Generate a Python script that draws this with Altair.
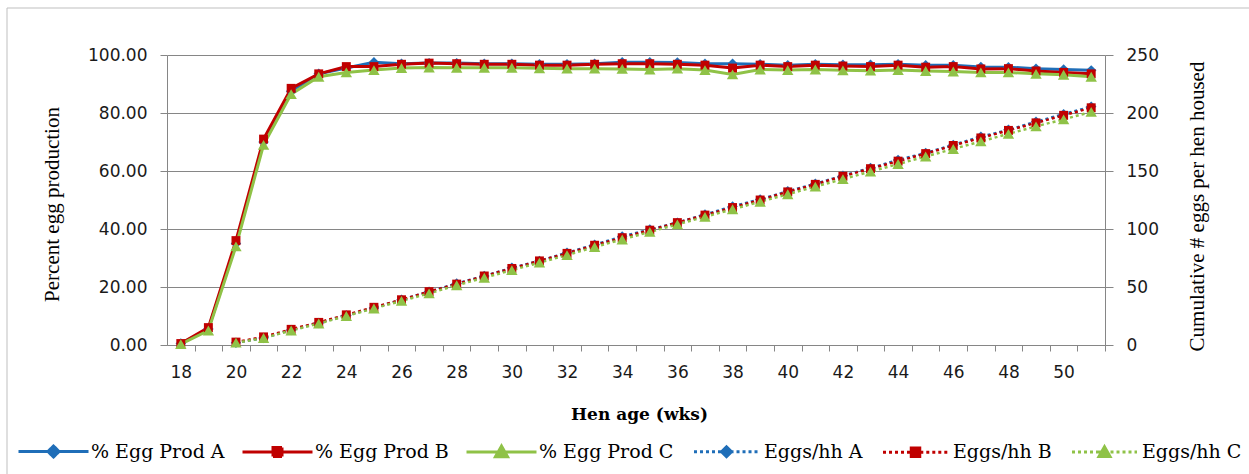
import altair as alt
import pandas as pd

# ---------------- data ----------------
weeks = list(range(18, 52))
pct_a = [0.5, 5.5, 35.0, 70.0, 87.5, 93.5, 95.5, 97.5, 97.0, 97.2, 97.2, 97.0, 97.0, 96.8, 96.8, 97.0, 97.5,
         97.5, 97.4, 97.0, 97.0, 96.8, 96.5, 96.8, 96.6, 96.6, 96.8, 96.5, 96.5, 95.9, 95.8, 95.3, 95.0, 94.7]
pct_b = [0.5, 6.0, 36.0, 71.0, 88.5, 93.5, 96.0, 96.0, 96.8, 97.2, 97.0, 96.8, 96.8, 96.5, 96.5, 96.8, 97.0,
         97.0, 96.8, 96.5, 95.5, 96.5, 96.0, 96.5, 96.2, 96.0, 96.5, 95.8, 96.0, 95.2, 95.3, 94.5, 94.0, 93.5]
pct_c = [0.3, 5.0, 34.0, 69.0, 86.5, 92.5, 94.0, 94.8, 95.5, 95.7, 95.6, 95.6, 95.6, 95.4, 95.3, 95.3, 95.2,
         95.0, 95.3, 94.8, 93.3, 95.0, 94.8, 95.0, 94.7, 94.6, 94.8, 94.5, 94.3, 94.0, 94.0, 93.5, 93.2, 92.5]

egg_weeks = list(range(20, 52))
egg_a = [2.0, 6.0, 13.0, 19.0, 25.5, 32.0, 39.0, 46.0, 53.0, 59.5, 66.5, 72.5, 79.5, 86.5, 93.5, 99.5,
         105.5, 112.5, 119.5, 125.5, 132.5, 139.0, 146.0, 152.5, 159.5, 165.5, 172.5, 179.5, 185.5, 192.5, 199.0, 205.5]
egg_b = [2.5, 7.0, 13.5, 19.5, 26.0, 32.5, 39.0, 46.0, 52.5, 59.5, 66.0, 72.5, 79.0, 86.0, 92.5, 99.0,
         105.5, 112.0, 118.5, 125.0, 132.0, 138.5, 145.5, 152.0, 158.5, 165.0, 172.0, 178.5, 185.0, 191.5, 198.0, 204.5]
egg_c = [2.0, 6.0, 12.5, 18.5, 25.0, 31.5, 38.0, 44.5, 51.5, 58.0, 64.5, 71.0, 77.5, 84.5, 91.0, 97.5,
         104.0, 110.5, 117.0, 123.5, 130.0, 136.5, 143.0, 149.5, 156.0, 162.5, 169.0, 175.5, 182.0, 188.5, 194.5, 201.0]

letters = ["A", "B", "C"]
names_pct = ["% Egg Prod A", "% Egg Prod B", "% Egg Prod C"]
names_egg = ["Eggs/hh A", "Eggs/hh B", "Eggs/hh C"]
all_names = names_pct + names_egg
base_colors = ["#1F6EB8", "#C00000", "#8FC247"]
colors = base_colors + base_colors
left_ticks = [0, 20, 40, 60, 80, 100]
right_ticks = [0, 50, 100, 150, 200, 250]

rows = []
for name, let, vals in zip(names_pct, letters, [pct_a, pct_b, pct_c]):
    for w, v in zip(weeks, vals):
        rows.append({"week": w, "series": name, "letter": let, "value": v, "kind": "pct"})
for name, let, vals in zip(names_egg, letters, [egg_a, egg_b, egg_c]):
    for w, v in zip(egg_weeks, vals):
        rows.append({"week": w, "series": name, "letter": let, "value": v, "kind": "egg"})
df = pd.DataFrame(rows)

# ---------------- styling ----------------
GREY = "#868686"
TXT = "#1a1a1a"
W, H = 938, 290
half_band = W / 34 / 2

color_enc = alt.Color("letter:N", scale=alt.Scale(domain=letters, range=base_colors), legend=None)

x_enc = alt.X(
    "week:Q",
    scale=alt.Scale(domain=[17.5, 51.5], nice=False, zero=False),
    axis=alt.Axis(
        values=weeks, tickOffset=half_band, labelOffset=-half_band,
        labelExpr="datum.value % 2 == 0 ? datum.label : ''",
        labelFlush=False, labelOverlap=False, grid=False,
        tickSize=6, tickColor=GREY, domainColor=GREY, labelPadding=13,
        labelFont="DejaVu Sans", labelFontSize=17, labelColor=TXT,
        title="Hen age (wks)", titleFont="DejaVu Serif", titleFontSize=17,
        titleFontWeight="bold", titleColor="black", titleX=472, titleY=69,
        titleAlign="center", titleBaseline="middle",
    ),
)

y_left = alt.Y(
    "value:Q",
    scale=alt.Scale(domain=[0, 100], nice=False, zero=True),
    axis=alt.Axis(
        orient="left", values=left_ticks, format=".2f", grid=True, gridColor=GREY,
        tickSize=7, tickColor=GREY, domainColor=GREY, labelPadding=13,
        labelFont="DejaVu Sans", labelFontSize=17, labelColor=TXT,
        title="Percent egg production", titleFont="Liberation Serif", titleFontSize=21,
        titleFontWeight="normal", titleColor="black", titleAngle=270,
        titleX=-115, titleY=149, titleAlign="center", titleBaseline="middle",
    ),
)

y_right = alt.Y(
    "value:Q",
    scale=alt.Scale(domain=[0, 250], nice=False, zero=True),
    axis=alt.Axis(
        orient="right", values=right_ticks, format="d", grid=False,
        tickSize=8, tickColor=GREY, domainColor=GREY, labelPadding=13,
        labelFont="DejaVu Sans", labelFontSize=17, labelColor=TXT,
        title="Cumulative # eggs per hen housed", titleFont="Liberation Serif", titleFontSize=21,
        titleFontWeight="normal", titleColor="black", titleAngle=270,
        titleX=92, titleY=151, titleAlign="center", titleBaseline="middle",
    ),
)

shapes = ["diamond", "square", "triangle-up"]
sizes = [110, 80, 130]

pct_base = alt.Chart(df).transform_filter("datum.kind == 'pct'")
pct_line = pct_base.mark_line(strokeWidth=3).encode(
    x=x_enc, y=y_left, color=color_enc, detail="series:N")
pct_pts = [
    pct_base.transform_filter(f"datum.series == '{n}'")
    .mark_point(shape=s, filled=True, size=sz, opacity=1)
    .encode(x=x_enc, y=y_left, color=color_enc)
    for n, s, sz in zip(names_pct, shapes, sizes)
]

egg_base = alt.Chart(df).transform_filter("datum.kind == 'egg'")
egg_line = egg_base.mark_line(strokeWidth=2.5, strokeDash=[3, 3]).encode(
    x=x_enc, y=y_right, color=color_enc, detail="series:N")
egg_pts = [
    egg_base.transform_filter(f"datum.series == '{n}'")
    .mark_point(shape=s, filled=True, size=sz, opacity=1)
    .encode(x=x_enc, y=y_right, color=color_enc)
    for n, s, sz in zip(names_egg, shapes, sizes)
]

left = alt.layer(pct_line, *pct_pts)
right = alt.layer(egg_line, *egg_pts)

# legend: custom symbols = line segment + marker, traced as one continuous path
p_diamond = "M-7,0L7,0M0,-1.1L1.1,0L0,1.1L-1.1,0Z"
p_square = "M-7,0L7,0M-0.9,-0.9L0.9,-0.9L0.9,0.9L-0.9,0.9Z"
p_tri = "M-7,0L7,0M0,-1.15L1.2,0.95L-1.2,0.95Z"
p_diamond_e = "M-6.5,0L-1,0L0,-1L1,0L0,1L-1,0L6.5,0"
p_square_e = "M-6.5,0L-0.85,0L-0.85,-0.85L0.85,-0.85L0.85,0.85L-0.85,0.85L-0.85,0L6.5,0"
p_tri_e = "M-6.5,0L-0.592,0L-1.1,0.9L1.1,0.9L0,-1.05L-0.592,0L6.5,0"
leg_paths = [p_diamond, p_square, p_tri, p_diamond_e, p_square_e, p_tri_e]

dots4 = [3, 3, 3, 3, 3, 3, 3, 3]
dots_tail = [3, 3, 3, 3, 3, 3, 3, 3, 3, 3, 3, 3, 3, 3]
dash_diamond = dots4 + [31.8, 3] + dots_tail
dash_square = dots4 + [38.3, 3] + dots_tail
dash_tri = dots4 + [38.9, 3] + dots_tail
leg_dash = [[1, 0], [1, 0], [1, 0], dash_diamond, dash_square, dash_tri]

leg = alt.Legend(
    orient="none", legendX=-158, legendY=387, direction="horizontal",
    symbolSize=100, symbolOffset=35, labelOffset=28, columnPadding=8,
    symbolStrokeWidth=3, labelFont="DejaVu Serif", labelFontSize=19,
    labelColor="black", labelLimit=0,
)
legend_layer = (
    alt.Chart(df)
    .transform_filter("false")
    .mark_point(filled=True, opacity=1, size=100, strokeWidth=3)
    .encode(
        fill=alt.Fill("series:N", scale=alt.Scale(domain=all_names, range=colors), legend=leg, title=""),
        stroke=alt.Stroke("series:N", scale=alt.Scale(domain=all_names, range=colors), legend=leg, title=""),
        shape=alt.Shape("series:N", scale=alt.Scale(domain=all_names, range=leg_paths), legend=leg, title=""),
        strokeDash=alt.StrokeDash("series:N", scale=alt.Scale(domain=all_names, range=leg_dash), legend=leg, title=""),
    )
)

frame_df = pd.DataFrame({"k": [0]})
frame_left = alt.Chart(frame_df).mark_rule(color="#BFBFBF", strokeWidth=1).encode(
    x=alt.value(-160), y=alt.value(-47), y2=alt.value(419))
frame_top = alt.Chart(frame_df).mark_rule(color="#BFBFBF", strokeWidth=1).encode(
    x=alt.value(-160), x2=alt.value(1082), y=alt.value(-47))

chart = (
    alt.layer(left, right, legend_layer, frame_left, frame_top)
    .resolve_scale(y="independent")
    .properties(
        width=W, height=H, autosize="none",
        padding={"left": 167, "top": 55, "right": 144, "bottom": 129},
        background="white",
    )
    .configure_view(strokeWidth=0)
)

chart.save("out.html", embed_options={"renderer": "svg", "actions": False})
